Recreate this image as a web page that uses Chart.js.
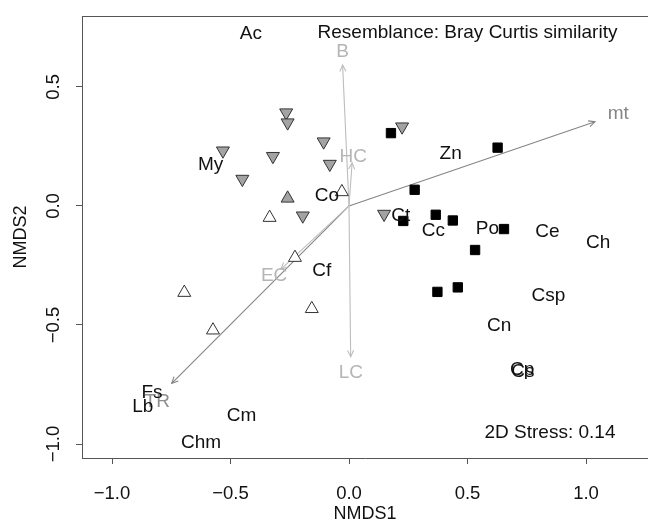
<!DOCTYPE html>
<html>
<head>
<meta charset="utf-8">
<script src="https://cdn.jsdelivr.net/npm/chart.js@4.4.1/dist/chart.umd.min.js"></script>
<style>
  html, body { margin: 0; padding: 0; background: #fff; }
  #wrap { width: 648px; height: 525px; }
</style>
</head>
<body>
<div id="wrap"><canvas id="nmds" width="648" height="525"></canvas></div>
<script>
// NMDS ordination — samples, species centroids and env vectors

const xTickValues = [-1, -0.5, 0, 0.5, 1];
const xTickLabels = ['\u22121.0', '\u22120.5', '0.0', '0.5', '1.0'];
const yTickValues = [-1, -0.5, 0, 0.5];
const yTickLabels = ['\u22121.0', '\u22120.5', '0.0', '0.5'];

// samples (4 groups)
const grayDownX = [-0.265, -0.259, -0.107, -0.532, -0.321, -0.081, -0.450, -0.195, 0.224, 0.148];
const grayDownY = [0.392, 0.350, 0.270, 0.232, 0.209, 0.176, 0.113, -0.041, 0.333, -0.034];
const grayUpX = [-0.259];
const grayUpY = [0.032];
const openUpX = [-0.030, -0.335, -0.228, -0.157, -0.695, -0.574];
const openUpY = [0.059, -0.049, -0.217, -0.432, -0.364, -0.522];
const squareX = [0.177, 0.627, 0.277, 0.229, 0.366, 0.438, 0.654, 0.532, 0.373, 0.459];
const squareY = [0.306, 0.245, 0.068, -0.063, -0.037, -0.061, -0.097, -0.185, -0.361, -0.342];

// species labels
const speciesNames = ['Ac', 'My', 'Co', 'Zn', 'Ct', 'Cc', 'Po', 'Ce', 'Ch', 'Cf', 'Csp', 'Cn', 'Cp', 'Cs', 'Fs', 'Lb', 'Cm', 'Chm'];
const speciesX = [-0.414, -0.584, -0.093, 0.429, 0.218, 0.356, 0.584, 0.837, 1.051, -0.115, 0.841, 0.634, 0.731, 0.734, -0.831, -0.870, -0.453, -0.624];
const speciesY = [0.723, 0.172, 0.042, 0.218, -0.042, -0.104, -0.094, -0.108, -0.154, -0.273, -0.377, -0.504, -0.690, -0.695, -0.786, -0.843, -0.882, -0.995];

// environmental vectors
const vectorNames = ['B', 'HC', 'LC', 'EC', 'TR', 'mt'];
const vectorX = [-0.027, 0.013, 0.007, -0.287, -0.748, 1.038];
const vectorY = [0.592, 0.181, -0.633, -0.265, -0.745, 0.354];
const vectorLabelX = [-0.027, 0.018, 0.008, -0.316, -0.809, 1.136];
const vectorLabelY = [0.648, 0.207, -0.700, -0.294, -0.822, 0.389];
const vectorColors = ['#bdbdbd', '#bdbdbd', '#bdbdbd', '#bdbdbd', '#858585', '#858585'];
const vectorLabelColors = ['#b5b5b5', '#b5b5b5', '#b5b5b5', '#b5b5b5', '#8f8f8f', '#858585'];

const notes = ['Resemblance: Bray Curtis similarity', '2D Stress: 0.14'];
const notesX = [0.5, 0.848];
const notesY = [0.728, -0.951];

const FONT = '"Liberation Sans", Arial, Helvetica, sans-serif';
const AXIS = '#555';

const pts = (xs, ys) => xs.map((x, i) => ({ x, y: ys[i] }));

const pointSets = [
  { data: pts(squareX, squareY), pointStyle: 'rect', radius: 6.6, pointBackgroundColor: '#000', pointBorderColor: '#000' },
  { data: pts(grayDownX, grayDownY), pointStyle: 'triangle', rotation: 180, radius: 7.5, pointBackgroundColor: '#a3a3a3', pointBorderColor: '#333' },
  { data: pts(grayUpX, grayUpY), pointStyle: 'triangle', rotation: 0, radius: 7.5, pointBackgroundColor: '#a3a3a3', pointBorderColor: '#333' },
  { data: pts(openUpX, openUpY), pointStyle: 'triangle', rotation: 0, radius: 7.5, pointBackgroundColor: '#fff', pointBorderColor: '#333' },
].map(d => ({ ...d, showLine: false, pointBorderWidth: 1, pointRadius: d.radius, pointRotation: d.rotation || 0, pointHoverRadius: d.radius }));

const vectorSets = vectorNames.map((n, i) => ({
  label: n, isVector: true,
  data: [{ x: 0, y: 0 }, { x: vectorX[i], y: vectorY[i] }],
  showLine: true, borderColor: vectorColors[i], borderWidth: 1.1,
  pointRadius: 0, pointHoverRadius: 0,
}));

const overlay = {
  id: 'overlay',
  afterDatasetsDraw(chart) {
    const { ctx, chartArea: a, scales: { x, y } } = chart;
    ctx.save();
    // top frame line
    ctx.strokeStyle = AXIS; ctx.lineWidth = 1;
    ctx.beginPath(); ctx.moveTo(a.left, Math.round(a.top) + 0.5); ctx.lineTo(a.right, Math.round(a.top) + 0.5); ctx.stroke();

    // arrow heads
    chart.data.datasets.forEach((ds, i) => {
      if (!ds.isVector) return;
      const m = chart.getDatasetMeta(i).data;
      const p0 = m[0], p1 = m[1];
      const ang = Math.atan2(p1.y - p0.y, p1.x - p0.x);
      const len = 7, spread = 0.45;
      ctx.strokeStyle = ds.borderColor; ctx.lineWidth = 1.1;
      ctx.beginPath();
      ctx.moveTo(p1.x - len * Math.cos(ang - spread), p1.y - len * Math.sin(ang - spread));
      ctx.lineTo(p1.x, p1.y);
      ctx.lineTo(p1.x - len * Math.cos(ang + spread), p1.y - len * Math.sin(ang + spread));
      ctx.stroke();
    });

    ctx.font = '19px ' + FONT;
    ctx.textAlign = 'center';
    ctx.textBaseline = 'middle';
    vectorNames.forEach((n, i) => {
      ctx.fillStyle = vectorLabelColors[i];
      ctx.fillText(n, x.getPixelForValue(vectorLabelX[i]), y.getPixelForValue(vectorLabelY[i]));
    });
    ctx.fillStyle = '#111';
    speciesNames.forEach((n, i) => {
      ctx.fillText(n, x.getPixelForValue(speciesX[i]), y.getPixelForValue(speciesY[i]));
    });
    notes.forEach((n, i) => {
      ctx.fillText(n, x.getPixelForValue(notesX[i]), y.getPixelForValue(notesY[i]));
    });
    ctx.restore();
  }
};

new Chart(document.getElementById('nmds'), {
  type: 'scatter',
  data: { datasets: [...pointSets, ...vectorSets] },
  options: {
    responsive: false,
    animation: false,
    devicePixelRatio: 1,
    layout: { autoPadding: false, padding: { top: 16, right: 0, bottom: 0, left: 0 } },
    plugins: { legend: { display: false }, tooltip: { enabled: false } },
    scales: {
      x: {
        type: 'linear', position: 'bottom', min: -1.1266, max: 1.2616,
        afterFit: s => { s.height = 67; },
        afterBuildTicks: s => { s.ticks = xTickValues.map(v => ({ value: v })); },
        grid: { drawOnChartArea: false, drawTicks: true, tickLength: 6, color: AXIS },
        border: { display: true, color: AXIS, width: 1 },
        ticks: {
          padding: 19, color: '#111', font: { family: FONT, size: 18.5 },
          maxRotation: 0, autoSkip: false,
          callback: v => xTickLabels[xTickValues.indexOf(v)] ?? ''
        },
        title: { display: true, text: 'NMDS1', color: '#111', font: { family: FONT, size: 18 }, padding: { top: 0, bottom: 0 } }
      },
      y: {
        type: 'linear', position: 'left', min: -1.0588, max: 0.798,
        afterFit: s => { s.width = 82; },
        afterBuildTicks: s => { s.ticks = yTickValues.map(v => ({ value: v })); },
        grid: { drawOnChartArea: false, drawTicks: true, tickLength: 6, color: AXIS },
        border: { display: true, color: AXIS, width: 1 },
        ticks: {
          padding: 4, color: '#111', font: { family: FONT, size: 18.5 },
          minRotation: 90, maxRotation: 90, crossAlign: 'center', autoSkip: false,
          callback: v => yTickLabels[yTickValues.indexOf(v)] ?? ''
        },
        title: { display: true, text: 'NMDS2', color: '#111', font: { family: FONT, size: 18 }, padding: { top: 10, bottom: 0 } }
      }
    }
  },
  plugins: [overlay]
});
</script>
</body>
</html>
